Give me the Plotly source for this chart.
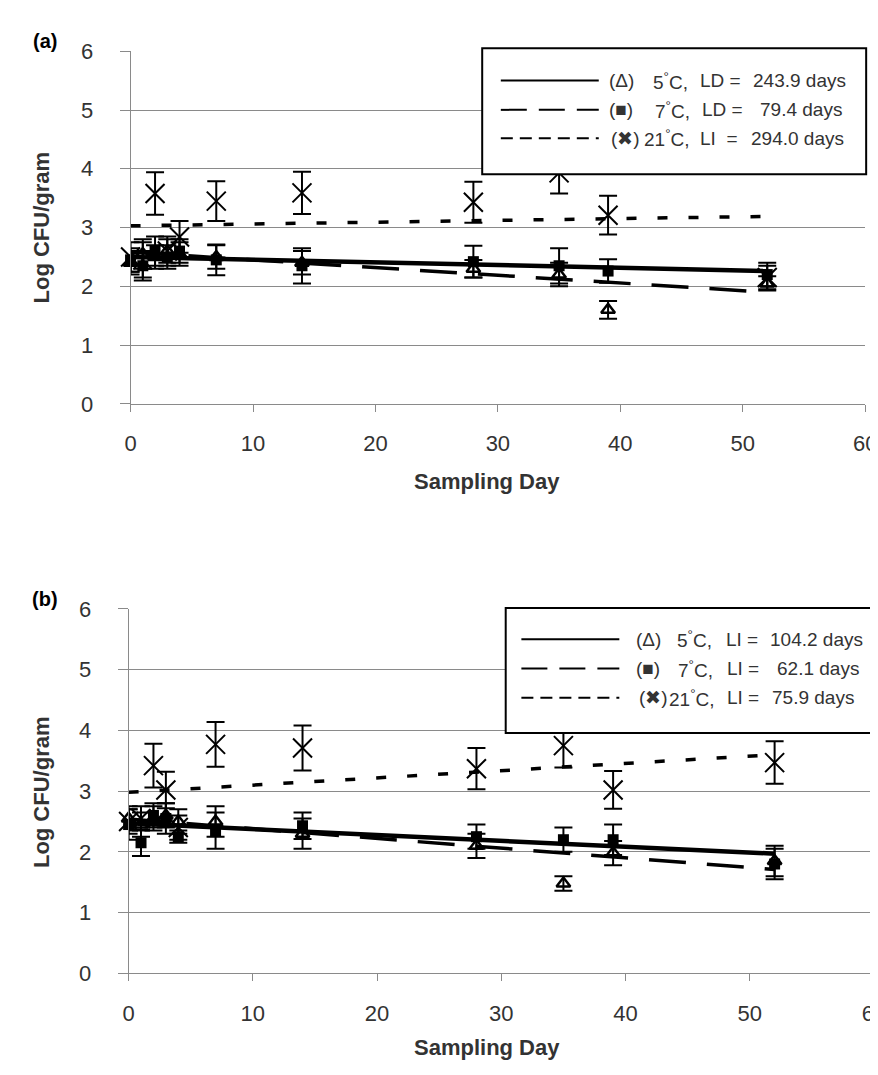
import plotly.graph_objects as go

W, H = 878, 1075

# ---------------- data ----------------
days = [0, 1, 2, 3, 4, 7, 14, 28, 35, 39, 52]

# panel (a)
t5_a = [2.40, 2.55, 2.50, 2.60, 2.55, 2.50, 2.40, 2.30, 2.20, 1.60, 2.05]
t5_a_err = [0.20, 0.25, 0.20, 0.20, 0.20, 0.20, 0.20, 0.15, 0.20, 0.15, 0.12]
t7_a = [2.45, 2.35, 2.60, 2.50, 2.60, 2.45, 2.35, 2.42, 2.35, 2.26, 2.20]
t7_a_err = [0.20, 0.25, 0.25, 0.20, 0.20, 0.26, 0.30, 0.27, 0.30, 0.20, 0.20]
t21_a = [2.50, 2.45, 3.58, 2.60, 2.84, 3.45, 3.59, 3.43, 3.93, 3.21, 2.15]
t21_a_err = [0.25, 0.30, 0.36, 0.25, 0.27, 0.34, 0.36, 0.35, 0.35, 0.33, 0.20]

# panel (b)
t5_b = [2.55, 2.45, 2.55, 2.60, 2.50, 2.50, 2.30, 2.10, 1.48, 1.98, 1.85]
t5_b_err = [0.20, 0.20, 0.20, 0.20, 0.20, 0.25, 0.25, 0.20, 0.12, 0.20, 0.25]
t7_b = [2.45, 2.15, 2.60, 2.55, 2.25, 2.35, 2.43, 2.25, 2.20, 2.20, 1.80]
t7_b_err = [0.25, 0.22, 0.20, 0.25, 0.10, 0.30, 0.22, 0.20, 0.20, 0.25, 0.25]
t21_b = [2.50, 2.55, 3.42, 3.02, 2.40, 3.77, 3.71, 3.37, 3.75, 3.02, 3.47]
t21_b_err = [0.20, 0.20, 0.36, 0.30, 0.20, 0.37, 0.37, 0.34, 0.36, 0.31, 0.35]

# fitted regression lines (values at fit_days)
fit_days = [0, 52]
fit_a_5 = [2.50, 2.26]
fit_a_7 = [2.58, 1.90]
fit_a_21 = [3.03, 3.19]
fit_b_5 = [2.47, 1.97]
fit_b_7 = [2.54, 1.71]
fit_b_21 = [2.98, 3.60]

legend_a = [
    ("(Δ)", "5<sup>°</sup>C,", "LD =", "243.9 days"),
    ("(■)", "7<sup>°</sup>C,", "LD =", "79.4 days"),
    ("(✖)", "21<sup>°</sup>C,", "LI  =", "294.0 days"),
]
legend_b = [
    ("(Δ)", "5<sup>°</sup>C,", "LI =", "104.2 days"),
    ("(■)", "7<sup>°</sup>C,", "LI =", "62.1 days"),
    ("(✖)", "21<sup>°</sup>C,", "LI =", "75.9 days"),
]

# ---------------- helpers ----------------
def px(x):
    return x / W

def py(y):
    return 1 - y / H

FONT = "Liberation Sans, Arial, sans-serif"
GRID = "#8a8a8a"
TXT = "#333333"

fig = go.Figure()

def add_panel(xa, ya, t5, e5, t7, e7, t21, e21, f5, f7, f21):
    common_err = dict(type="data", visible=True, color="black", thickness=2, width=9)
    fig.add_trace(go.Scatter(
        x=days, y=t21, mode="markers", xaxis=xa, yaxis=ya, showlegend=False,
        marker=dict(symbol="x-thin", size=19, line=dict(color="black", width=2)),
        error_y=dict(array=e21, **common_err), cliponaxis=False))
    fig.add_trace(go.Scatter(
        x=days, y=t7, mode="markers", xaxis=xa, yaxis=ya, showlegend=False,
        marker=dict(symbol="square", size=11, color="black"),
        error_y=dict(array=e7, **common_err), cliponaxis=False))
    fig.add_trace(go.Scatter(
        x=days, y=t5, mode="markers", xaxis=xa, yaxis=ya, showlegend=False,
        marker=dict(symbol="triangle-up-open", size=12, color="black",
                    line=dict(color="black", width=2.5)),
        error_y=dict(array=e5, **common_err), cliponaxis=False))
    fig.add_trace(go.Scatter(
        x=fit_days, y=f5, mode="lines", xaxis=xa, yaxis=ya, showlegend=False,
        line=dict(color="black", width=4.5)))
    fig.add_trace(go.Scatter(
        x=fit_days, y=f7, mode="lines", xaxis=xa, yaxis=ya, showlegend=False,
        line=dict(color="black", width=3.5, dash="37px,21px")))
    fig.add_trace(go.Scatter(
        x=fit_days, y=f21, mode="lines", xaxis=xa, yaxis=ya, showlegend=False,
        line=dict(color="black", width=3.5, dash="10px,21px")))

add_panel("x", "y", t5_a, t5_a_err, t7_a, t7_a_err, t21_a, t21_a_err,
          fit_a_5, fit_a_7, fit_a_21)
add_panel("x2", "y2", t5_b, t5_b_err, t7_b, t7_b_err, t21_b, t21_b_err,
          fit_b_5, fit_b_7, fit_b_21)

xax = dict(range=[0, 60], dtick=10, tick0=0, showgrid=False, zeroline=False,
           showline=True, linecolor=GRID, linewidth=1, ticks="outside",
           ticklen=7, tickcolor=GRID, tickwidth=1, ticklabelstandoff=13,
           ticklabeloverflow="allow",
           tickfont=dict(family=FONT, size=22, color=TXT))
yax = dict(range=[0, 6], dtick=1, tick0=0, showgrid=True, gridcolor=GRID,
           gridwidth=1, zeroline=False, showline=True, linecolor=GRID,
           linewidth=1, ticks="outside", ticklen=10, tickcolor=GRID,
           tickwidth=1, ticklabelstandoff=22,
           tickfont=dict(family=FONT, size=22, color=TXT))

fig.update_layout(
    width=W, height=H, margin=dict(l=0, r=0, t=0, b=0),
    paper_bgcolor="white", plot_bgcolor="white", showlegend=False,
    xaxis=dict(domain=[px(119), px(869)], anchor="y", **xax),
    yaxis=dict(domain=[py(393), py(32)], anchor="x", **yax),
    xaxis2=dict(domain=[px(117), 1.0], anchor="y2", **xax),
    yaxis2=dict(domain=[py(976), py(603)], anchor="x2", **yax),
)

shapes = []
annotations = []

def add_text(x, y, text, size=19, bold=False, xanchor="left", angle=0, color=TXT):
    t = f"<b>{text}</b>" if bold else text
    annotations.append(dict(x=px(x), y=py(y), xref="paper", yref="paper",
                            text=t, showarrow=False, xanchor=xanchor,
                            yanchor="middle", textangle=angle,
                            font=dict(family=FONT, size=size, color=color)))

def add_legend(box, rows, row_y, line_x, cols):
    x0, y0, x1, y1 = box
    shapes.append(dict(type="rect", xref="paper", yref="paper",
                       x0=px(x0), x1=px(x1), y0=py(y1), y1=py(y0),
                       line=dict(color="black", width=2), fillcolor="white",
                       layer="above"))
    styles = [("solid", 2), ("26px,12px", 2), ("12px,7px", 2)]
    for i, (dash, lw) in enumerate(styles):
        shapes.append(dict(type="line", xref="paper", yref="paper",
                           x0=px(line_x[0]), x1=px(line_x[1]),
                           y0=py(row_y[i]), y1=py(row_y[i]),
                           line=dict(color="black", width=lw, dash=dash),
                           layer="above"))
    for i, row in enumerate(rows):
        for j, part in enumerate(row):
            add_text(cols[i][j], row_y[i], part, size=19)

add_legend((478, 29, 870, 158), legend_a, [62, 92, 121], (497, 597),
           [(605, 650, 698, 752), (605, 652, 700, 760), (607, 641, 698, 750)])
add_legend((502, 602, 940, 730), legend_b, [634, 664, 694], (518, 618),
           [(633, 675, 725, 770), (633, 676, 726, 777), (636, 667, 726, 772)])

# panel labels and axis titles
add_text(32, 22, "(a)", size=20, bold=True, xanchor="center", color="black")
add_text(32, 593, "(b)", size=20, bold=True, xanchor="center", color="black")
add_text(28, 212, "Log CFU/gram", size=22, bold=True, xanchor="center", angle=-90)
add_text(28, 790, "Log CFU/gram", size=22, bold=True, xanchor="center", angle=-90)
add_text(483, 472, "Sampling Day", size=22, bold=True, xanchor="center")
add_text(483, 1052, "Sampling Day", size=22, bold=True, xanchor="center")

fig.update_layout(shapes=shapes, annotations=annotations)

fig.write_html("out.html")
